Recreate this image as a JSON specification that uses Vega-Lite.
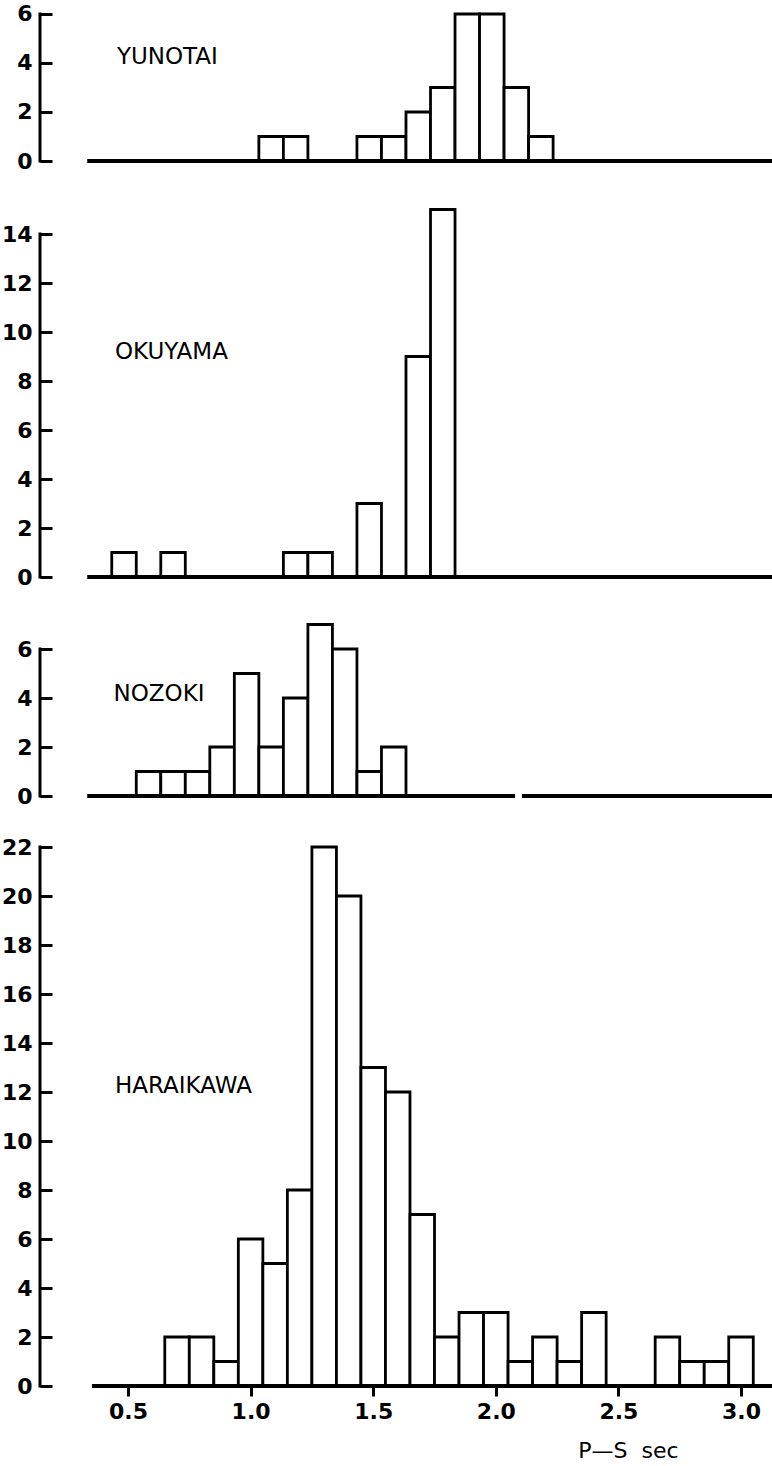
{
  "$schema": "https://vega.github.io/schema/vega-lite/v6.json",
  "padding": {"left": 1, "top": 0, "right": 0, "bottom": 0},
  "background": "white",
  "spacing": 0,
  "bounds": "flush",
  "config": {
    "view": {"stroke": null},
    "axis": {"labelFont": "DejaVu Sans", "labelFontSize": 22, "labelFontWeight": "bold", "labelColor": "black", "tickColor": "black", "tickWidth": 3, "domain": false, "grid": false},
    "axisY": {"tickSize": -12, "labelPadding": 20},
    "axisX": {"tickSize": 10, "labelPadding": 5}
  },
  "datasets": {
    "hist": [
      {"station": "YUNOTAI", "lo": 1.05, "hi": 1.15, "count": 1},
      {"station": "YUNOTAI", "lo": 1.15, "hi": 1.25, "count": 1},
      {"station": "YUNOTAI", "lo": 1.45, "hi": 1.55, "count": 1},
      {"station": "YUNOTAI", "lo": 1.55, "hi": 1.65, "count": 1},
      {"station": "YUNOTAI", "lo": 1.65, "hi": 1.75, "count": 2},
      {"station": "YUNOTAI", "lo": 1.75, "hi": 1.85, "count": 3},
      {"station": "YUNOTAI", "lo": 1.85, "hi": 1.95, "count": 6},
      {"station": "YUNOTAI", "lo": 1.95, "hi": 2.05, "count": 6},
      {"station": "YUNOTAI", "lo": 2.05, "hi": 2.15, "count": 3},
      {"station": "YUNOTAI", "lo": 2.15, "hi": 2.25, "count": 1},
      {"station": "OKUYAMA", "lo": 0.45, "hi": 0.55, "count": 1},
      {"station": "OKUYAMA", "lo": 0.65, "hi": 0.75, "count": 1},
      {"station": "OKUYAMA", "lo": 1.15, "hi": 1.25, "count": 1},
      {"station": "OKUYAMA", "lo": 1.25, "hi": 1.35, "count": 1},
      {"station": "OKUYAMA", "lo": 1.45, "hi": 1.55, "count": 3},
      {"station": "OKUYAMA", "lo": 1.65, "hi": 1.75, "count": 9},
      {"station": "OKUYAMA", "lo": 1.75, "hi": 1.85, "count": 15},
      {"station": "NOZOKI", "lo": 0.55, "hi": 0.65, "count": 1},
      {"station": "NOZOKI", "lo": 0.65, "hi": 0.75, "count": 1},
      {"station": "NOZOKI", "lo": 0.75, "hi": 0.85, "count": 1},
      {"station": "NOZOKI", "lo": 0.85, "hi": 0.95, "count": 2},
      {"station": "NOZOKI", "lo": 0.95, "hi": 1.05, "count": 5},
      {"station": "NOZOKI", "lo": 1.05, "hi": 1.15, "count": 2},
      {"station": "NOZOKI", "lo": 1.15, "hi": 1.25, "count": 4},
      {"station": "NOZOKI", "lo": 1.25, "hi": 1.35, "count": 7},
      {"station": "NOZOKI", "lo": 1.35, "hi": 1.45, "count": 6},
      {"station": "NOZOKI", "lo": 1.45, "hi": 1.55, "count": 1},
      {"station": "NOZOKI", "lo": 1.55, "hi": 1.65, "count": 2},
      {"station": "HARAIKAWA", "lo": 0.65, "hi": 0.75, "count": 2},
      {"station": "HARAIKAWA", "lo": 0.75, "hi": 0.85, "count": 2},
      {"station": "HARAIKAWA", "lo": 0.85, "hi": 0.95, "count": 1},
      {"station": "HARAIKAWA", "lo": 0.95, "hi": 1.05, "count": 6},
      {"station": "HARAIKAWA", "lo": 1.05, "hi": 1.15, "count": 5},
      {"station": "HARAIKAWA", "lo": 1.15, "hi": 1.25, "count": 8},
      {"station": "HARAIKAWA", "lo": 1.25, "hi": 1.35, "count": 22},
      {"station": "HARAIKAWA", "lo": 1.35, "hi": 1.45, "count": 20},
      {"station": "HARAIKAWA", "lo": 1.45, "hi": 1.55, "count": 13},
      {"station": "HARAIKAWA", "lo": 1.55, "hi": 1.65, "count": 12},
      {"station": "HARAIKAWA", "lo": 1.65, "hi": 1.75, "count": 7},
      {"station": "HARAIKAWA", "lo": 1.75, "hi": 1.85, "count": 2},
      {"station": "HARAIKAWA", "lo": 1.85, "hi": 1.95, "count": 3},
      {"station": "HARAIKAWA", "lo": 1.95, "hi": 2.05, "count": 3},
      {"station": "HARAIKAWA", "lo": 2.05, "hi": 2.15, "count": 1},
      {"station": "HARAIKAWA", "lo": 2.15, "hi": 2.25, "count": 2},
      {"station": "HARAIKAWA", "lo": 2.25, "hi": 2.35, "count": 1},
      {"station": "HARAIKAWA", "lo": 2.35, "hi": 2.45, "count": 3},
      {"station": "HARAIKAWA", "lo": 2.65, "hi": 2.75, "count": 2},
      {"station": "HARAIKAWA", "lo": 2.75, "hi": 2.85, "count": 1},
      {"station": "HARAIKAWA", "lo": 2.85, "hi": 2.95, "count": 1},
      {"station": "HARAIKAWA", "lo": 2.95, "hi": 3.05, "count": 2}
    ]
  },
  "resolve": {"scale": {"x": "independent", "y": "independent"}},
  "vconcat": [
    {
      "width": 732, "height": 161,
      "layer": [
        {
          "data": {"name": "hist"},
          "transform": [{"filter": "datum.station === 'YUNOTAI'"}],
          "mark": {"type": "rect", "fill": "white", "stroke": "black", "strokeWidth": 2.8},
          "encoding": {
            "x": {"field": "lo", "type": "quantitative", "scale": {"domain": [0.1574, 3.1427], "nice": false, "zero": false}, "axis": null},
            "x2": {"field": "hi"},
            "y": {"field": "count", "type": "quantitative", "scale": {"domain": [0, 6.571], "nice": false}, "axis": {"values": [0, 2, 4, 6], "title": null}},
            "y2": {"datum": 0}
          }
        },
        {
          "data": {"values": [{}]},
          "mark": {"type": "rule", "color": "black", "strokeWidth": 4},
          "encoding": {
            "x": {"datum": 0.35, "type": "quantitative"},
            "x2": {"datum": 3.1427},
            "y": {"datum": 0, "type": "quantitative"}
          }
        },
        {
          "data": {"values": [{}]},
          "mark": {"type": "rule", "color": "black", "strokeWidth": 3, "strokeCap": "square"},
          "encoding": {
            "x": {"datum": 0.1574, "type": "quantitative"},
            "y": {"datum": 0, "type": "quantitative"},
            "y2": {"datum": 6}
          }
        },
        {
          "data": {"values": [{}]},
          "mark": {"type": "text", "align": "left", "baseline": "middle", "font": "DejaVu Sans", "fontSize": 23, "color": "black"},
          "encoding": {
            "x": {"datum": 0.471, "type": "quantitative"},
            "y": {"datum": 4.245, "type": "quantitative"},
            "text": {"value": "YUNOTAI"}
          }
        }
      ]
    },
    {
      "width": 732, "height": 416,
      "layer": [
        {
          "data": {"name": "hist"},
          "transform": [{"filter": "datum.station === 'OKUYAMA'"}],
          "mark": {"type": "rect", "fill": "white", "stroke": "black", "strokeWidth": 2.8},
          "encoding": {
            "x": {"field": "lo", "type": "quantitative", "scale": {"domain": [0.1574, 3.1427], "nice": false, "zero": false}, "axis": null},
            "x2": {"field": "hi"},
            "y": {"field": "count", "type": "quantitative", "scale": {"domain": [0, 16.98], "nice": false}, "axis": {"values": [0, 2, 4, 6, 8, 10, 12, 14], "title": null}},
            "y2": {"datum": 0}
          }
        },
        {
          "data": {"values": [{}]},
          "mark": {"type": "rule", "color": "black", "strokeWidth": 4},
          "encoding": {
            "x": {"datum": 0.35, "type": "quantitative"},
            "x2": {"datum": 3.1427},
            "y": {"datum": 0, "type": "quantitative"}
          }
        },
        {
          "data": {"values": [{}]},
          "mark": {"type": "rule", "color": "black", "strokeWidth": 3, "strokeCap": "square"},
          "encoding": {
            "x": {"datum": 0.1574, "type": "quantitative"},
            "y": {"datum": 0, "type": "quantitative"},
            "y2": {"datum": 14}
          }
        },
        {
          "data": {"values": [{}]},
          "mark": {"type": "text", "align": "left", "baseline": "middle", "font": "DejaVu Sans", "fontSize": 23, "color": "black"},
          "encoding": {
            "x": {"datum": 0.463, "type": "quantitative"},
            "y": {"datum": 9.18, "type": "quantitative"},
            "text": {"value": "OKUYAMA"}
          }
        }
      ]
    },
    {
      "width": 732, "height": 219,
      "layer": [
        {
          "data": {"name": "hist"},
          "transform": [{"filter": "datum.station === 'NOZOKI'"}],
          "mark": {"type": "rect", "fill": "white", "stroke": "black", "strokeWidth": 2.8},
          "encoding": {
            "x": {"field": "lo", "type": "quantitative", "scale": {"domain": [0.1574, 3.1427], "nice": false, "zero": false}, "axis": null},
            "x2": {"field": "hi"},
            "y": {"field": "count", "type": "quantitative", "scale": {"domain": [0, 8.939], "nice": false}, "axis": {"values": [0, 2, 4, 6], "title": null}},
            "y2": {"datum": 0}
          }
        },
        {
          "data": {"values": [{}]},
          "mark": {"type": "rule", "color": "black", "strokeWidth": 4},
          "encoding": {
            "x": {"datum": 0.35, "type": "quantitative"},
            "x2": {"datum": 2.095},
            "y": {"datum": 0, "type": "quantitative"}
          }
        },
        {
          "data": {"values": [{}]},
          "mark": {"type": "rule", "color": "black", "strokeWidth": 4},
          "encoding": {
            "x": {"datum": 2.123, "type": "quantitative"},
            "x2": {"datum": 3.1427},
            "y": {"datum": 0, "type": "quantitative"}
          }
        },
        {
          "data": {"values": [{}]},
          "mark": {"type": "rule", "color": "black", "strokeWidth": 3, "strokeCap": "square"},
          "encoding": {
            "x": {"datum": 0.1574, "type": "quantitative"},
            "y": {"datum": 0, "type": "quantitative"},
            "y2": {"datum": 6}
          }
        },
        {
          "data": {"values": [{}]},
          "mark": {"type": "text", "align": "left", "baseline": "middle", "font": "DejaVu Sans", "fontSize": 23, "color": "black"},
          "encoding": {
            "x": {"datum": 0.457, "type": "quantitative"},
            "y": {"datum": 4.16, "type": "quantitative"},
            "text": {"value": "NOZOKI"}
          }
        }
      ]
    },
    {
      "width": 732, "height": 590,
      "layer": [
        {
          "data": {"name": "hist"},
          "transform": [{"filter": "datum.station === 'HARAIKAWA'"}],
          "mark": {"type": "rect", "fill": "white", "stroke": "black", "strokeWidth": 2.8},
          "encoding": {
            "x": {"field": "lo", "type": "quantitative", "scale": {"domain": [0.1411, 3.1264], "nice": false, "zero": false}, "axis": {"values": [0.5, 1, 1.5, 2, 2.5, 3], "format": ".1f", "title": "P—S\u00a0\u00a0sec", "titleFont": "DejaVu Sans", "titleFontSize": 22, "titleFontWeight": "normal", "titleColor": "black", "titleX": 588, "titleY": 64, "titleAlign": "center", "titleBaseline": "middle"}},
            "x2": {"field": "hi"},
            "y": {"field": "count", "type": "quantitative", "scale": {"domain": [0, 24.082], "nice": false}, "axis": {"values": [0, 2, 4, 6, 8, 10, 12, 14, 16, 18, 20, 22], "title": null}},
            "y2": {"datum": 0}
          }
        },
        {
          "data": {"values": [{}]},
          "mark": {"type": "rule", "color": "black", "strokeWidth": 4},
          "encoding": {
            "x": {"datum": 0.353, "type": "quantitative"},
            "x2": {"datum": 3.1264},
            "y": {"datum": 0, "type": "quantitative"}
          }
        },
        {
          "data": {"values": [{}]},
          "mark": {"type": "rule", "color": "black", "strokeWidth": 3, "strokeCap": "square"},
          "encoding": {
            "x": {"datum": 0.1411, "type": "quantitative"},
            "y": {"datum": 0, "type": "quantitative"},
            "y2": {"datum": 22}
          }
        },
        {
          "data": {"values": [{}]},
          "mark": {"type": "text", "align": "left", "baseline": "middle", "font": "DejaVu Sans", "fontSize": 23, "color": "black"},
          "encoding": {
            "x": {"datum": 0.447, "type": "quantitative"},
            "y": {"datum": 12.24, "type": "quantitative"},
            "text": {"value": "HARAIKAWA"}
          }
        }
      ]
    }
  ]
}
